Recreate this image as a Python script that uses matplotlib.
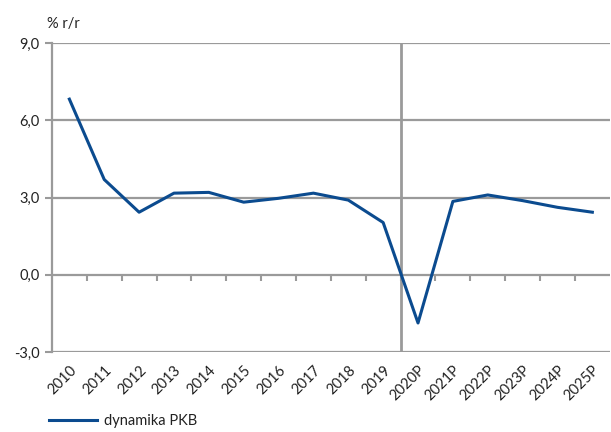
import matplotlib
matplotlib.use("Agg")
import matplotlib.pyplot as plt
from matplotlib.ticker import FixedLocator, NullFormatter

categories = ["2010", "2011", "2012", "2013", "2014", "2015", "2016", "2017",
              "2018", "2019", "2020P", "2021P", "2022P", "2023P", "2024P", "2025P"]
gdp = [6.82, 3.70, 2.43, 3.17, 3.20, 2.82, 2.97, 3.17,
       2.90, 2.03, -1.87, 2.85, 3.10, 2.88, 2.62, 2.43]
yticks = [-3.0, 0.0, 3.0, 6.0, 9.0]
ytick_labels = ["-3,0", "0,0", "3,0", "6,0", "9,0"]
series_label = "dynamika PKB"
unit_label = "% r/r"
forecast_start = 10  # index of first forecast category

plt.rcParams['font.family'] = ['Lato', 'DejaVu Sans']
grid_c = "#9a9a9a"
line_c = "#0b4b8f"

fig = plt.figure(figsize=(6.11, 4.32), dpi=100)
ax = fig.add_axes([0.085, 0.185, 0.913, 0.7155])

x = list(range(len(categories)))
ax.plot(x, gdp, color=line_c, lw=2.2, label=series_label, zorder=3)

ax.set_xlim(-0.5, len(categories) - 0.5)
ax.set_ylim(yticks[0], yticks[-1])
ax.set_yticks(yticks)
ax.set_yticklabels(ytick_labels, fontsize=10.5, color="#222222")
ax.tick_params(axis='y', length=5, width=1.5, color=grid_c, pad=4)
for v in yticks:
    ax.axhline(v, color=grid_c, lw=1.6, zorder=1)

ax.set_xticks(x)
ax.set_xticklabels(categories, rotation=45, ha='right', rotation_mode='anchor',
                   fontsize=10.5, color="#222222")
ax.tick_params(axis='x', length=0, pad=8)

for s in ['top', 'right', 'bottom']:
    ax.spines[s].set_visible(False)
ax.spines['left'].set_color(grid_c)
ax.spines['left'].set_linewidth(1.6)

# tick marks on zero line at category boundaries
frac0 = (0 - yticks[0]) / (yticks[-1] - yticks[0])
sec = ax.secondary_xaxis(frac0)
sec.spines['bottom'].set_visible(False)
sec.xaxis.set_major_locator(FixedLocator([i + 0.5 for i in range(len(categories) - 1)]))
sec.xaxis.set_major_formatter(NullFormatter())
sec.tick_params(axis='x', length=4, width=1.5, color=grid_c, direction='out')

ax.axvline(forecast_start - 0.5, color=grid_c, lw=2.0, zorder=2)

fig.text(0.077, 0.945, unit_label, fontsize=10.5, color="#222222", ha='left', va='center')

leg = fig.legend(loc='lower left', bbox_to_anchor=(0.058, -0.022), frameon=False,
                 fontsize=10.5, handlelength=3.3, handletextpad=0.5)
for t in leg.get_texts():
    t.set_color("#222222")

fig.savefig("out.png", dpi=100)
